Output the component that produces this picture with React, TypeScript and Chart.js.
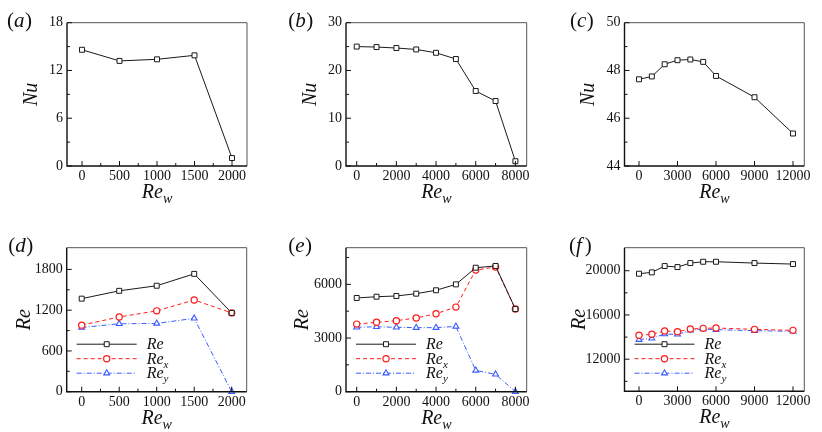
import { useEffect, useRef } from 'react';
import { Chart, registerables } from 'chart.js';

Chart.register(...registerables);

const SERIF = '"Liberation Serif"';

// (a)-(c): Nu against Re_w
const rewA = [0, 500, 1000, 1500, 2000];
const nuA = [14.6, 13.2, 13.4, 13.9, 1.0];

const rewB = [0, 1000, 2000, 3000, 4000, 5000, 6000, 7000, 8000];
const nuB = [25.0, 24.9, 24.7, 24.4, 23.7, 22.4, 15.7, 13.6, 1.0];

const rewC = [0, 1000, 2000, 3000, 4000, 5000, 6000, 9000, 12000];
const nuC = [47.63, 47.75, 48.26, 48.43, 48.46, 48.36, 47.77, 46.88, 45.36];

// (d)-(f): Re, Re_x, Re_y against Re_w
const reD = [1370, 1485, 1560, 1735, 1160];
const rexD = [980, 1100, 1190, 1350, 1160];
const reyD = [945, 1000, 1005, 1080, 0];

const reE = [5240, 5310, 5350, 5480, 5670, 6000, 6930, 7030, 4620];
const rexE = [3780, 3880, 3970, 4120, 4360, 4730, 6800, 6970, 4620];
const reyE = [3600, 3630, 3600, 3580, 3580, 3650, 1190, 970, 0];

const reF = [19730, 19850, 20420, 20330, 20690, 20810, 20810, 20690, 20600];
const rexF = [14160, 14250, 14550, 14490, 14730, 14790, 14820, 14700, 14610];
const reyF = [13770, 13890, 14280, 14250, 14610, 14730, 14670, 14580, 14520];

// tick labels
const xTicksA = [0, 500, 1000, 1500, 2000];
const xMinorA = [250, 750, 1250, 1750];
const xTicksB = [0, 2000, 4000, 6000, 8000];
const xMinorB = [1000, 3000, 5000, 7000];
const xTicksC = [0, 3000, 6000, 9000, 12000];

const yTicksA = [0, 6, 12, 18];
const yMinorA = [3, 9, 15];
const yTicksB = [0, 10, 20, 30];
const yMinorB = [5, 15, 25];
const yTicksC = [44, 46, 48, 50];
const yMinorC = [45, 47, 49];
const yTicksD = [0, 600, 1200, 1800];
const yMinorD = [300, 900, 1500];
const yTicksE = [0, 3000, 6000];
const yMinorE = [1500, 4500, 7500];
const yTicksF = [12000, 16000, 20000];
const yMinorF = [10000, 14000, 18000];

type Kind = 'Re' | 'Rex' | 'Rey';
type Series = { data: number[]; kind: Kind };
type Panel = {
  tag: string;
  pos: [number, number];
  box: [number, number, number, number];
  labelPos: [number, number];
  yTitle: string;
  yTitleOff: number;
  x: number[];
  series: Series[];
  xRange: [number, number];
  yRange: [number, number];
  xTicks: number[];
  xMinor: number[];
  yTicks: number[];
  yMinor: number[];
  legend: boolean;
};

const W = 274;
const H = 216;

const STYLE: Record<Kind, { color: string; dash: number[]; point: string; r: number; bw: number; sub: string }> = {
  Re: { color: '#1a1a1a', dash: [], point: 'rect', r: 3.5, bw: 1, sub: '' },
  Rex: { color: '#ff1a1a', dash: [4, 3], point: 'circle', r: 3.1, bw: 1.2, sub: 'x' },
  Rey: { color: '#3a5cff', dash: [5, 2, 1, 2], point: 'triangle', r: 3.4, bw: 1.1, sub: 'y' },
};

const panels: Panel[] = [
  {
    tag: 'a', pos: [0, 0], box: [67, 22.7, 247, 166], labelPos: [7, 26.5],
    yTitle: 'Nu', yTitleOff: 35, x: rewA, series: [{ data: nuA, kind: 'Re' }],
    xRange: [-200, 2200], yRange: [0, 18], xTicks: xTicksA, xMinor: xMinorA,
    yTicks: yTicksA, yMinor: yMinorA, legend: false,
  },
  {
    tag: 'b', pos: [274, 0], box: [72, 22.7, 252.7, 166], labelPos: [14.3, 26.5],
    yTitle: 'Nu', yTitleOff: 35, x: rewB, series: [{ data: nuB, kind: 'Re' }],
    xRange: [-540, 8570], yRange: [0, 30], xTicks: xTicksB, xMinor: xMinorB,
    yTicks: yTicksB, yMinor: yMinorB, legend: false,
  },
  {
    tag: 'c', pos: [548, 0], box: [76.5, 22.7, 256.3, 166], labelPos: [22, 26.5],
    yTitle: 'Nu', yTitleOff: 36, x: rewC, series: [{ data: nuC, kind: 'Re' }],
    xRange: [-1130, 12880], yRange: [44, 50], xTicks: xTicksC, xMinor: [],
    yTicks: yTicksC, yMinor: yMinorC, legend: false,
  },
  {
    tag: 'd', pos: [0, 216], box: [66.7, 31.7, 246.7, 175.7], labelPos: [8.3, 36.3],
    yTitle: 'Re', yTitleOff: 42, x: rewA,
    series: [{ data: reD, kind: 'Re' }, { data: rexD, kind: 'Rex' }, { data: reyD, kind: 'Rey' }],
    xRange: [-200, 2200], yRange: [0, 2120], xTicks: xTicksA, xMinor: xMinorA,
    yTicks: yTicksD, yMinor: yMinorD, legend: true,
  },
  {
    tag: 'e', pos: [274, 216], box: [72, 31.7, 252.7, 175.7], labelPos: [14.3, 36.3],
    yTitle: 'Re', yTitleOff: 43, x: rewB,
    series: [{ data: reE, kind: 'Re' }, { data: rexE, kind: 'Rex' }, { data: reyE, kind: 'Rey' }],
    xRange: [-540, 8570], yRange: [0, 8050], xTicks: xTicksB, xMinor: xMinorB,
    yTicks: yTicksE, yMinor: yMinorE, legend: true,
  },
  {
    tag: 'f', pos: [548, 216], box: [76.5, 31.7, 256.3, 175.3], labelPos: [21, 36.3],
    yTitle: 'Re', yTitleOff: 45, x: rewC,
    series: [{ data: reF, kind: 'Re' }, { data: rexF, kind: 'Rex' }, { data: reyF, kind: 'Rey' }],
    xRange: [-1130, 12880], yRange: [9100, 22080], xTicks: xTicksC, xMinor: [],
    yTicks: yTicksF, yMinor: yMinorF, legend: true,
  },
];

function drawMarker(ctx: CanvasRenderingContext2D, kind: Kind, x: number, y: number) {
  const st = STYLE[kind];
  ctx.beginPath();
  if (st.point === 'rect') {
    const s = st.r * Math.SQRT1_2;
    ctx.rect(x - s, y - s, 2 * s, 2 * s);
  } else if (st.point === 'circle') {
    ctx.arc(x, y, st.r, 0, Math.PI * 2);
  } else {
    for (let k = 0; k < 3; k++) {
      const a = (k * 2 * Math.PI) / 3;
      ctx.lineTo(x + Math.sin(a) * st.r, y - Math.cos(a) * st.r);
    }
    ctx.closePath();
  }
  ctx.setLineDash([]);
  ctx.fillStyle = '#fff';
  ctx.fill();
  ctx.strokeStyle = st.color;
  ctx.lineWidth = st.bw;
  ctx.stroke();
}

// italic main text with an optional italic subscript, baseline at y
function subText(
  ctx: CanvasRenderingContext2D, main: string, sub: string, x: number, y: number,
  size: number, subSize: number, center: boolean,
) {
  ctx.font = `italic ${size}px ${SERIF}`;
  const w1 = ctx.measureText(main).width;
  ctx.font = `italic ${subSize}px ${SERIF}`;
  const w2 = sub ? ctx.measureText(sub).width : 0;
  const x0 = center ? x - (w1 + w2) / 2 : x;
  ctx.textAlign = 'left';
  ctx.textBaseline = 'alphabetic';
  ctx.font = `italic ${size}px ${SERIF}`;
  ctx.fillText(main, x0, y);
  if (sub) {
    ctx.font = `italic ${subSize}px ${SERIF}`;
    ctx.fillText(sub, x0 + w1, y + size * 0.25);
  }
}

function framePlugin(p: Panel) {
  return {
    id: 'frame_' + p.tag,
    afterDraw(chart: Chart) {
      const { ctx, chartArea: a } = chart;
      const xs = chart.scales.x;
      const ys = chart.scales.y;
      ctx.save();

      // box: thin grey top/right, darker left/bottom
      ctx.setLineDash([]);
      ctx.strokeStyle = '#555';
      ctx.lineWidth = 1;
      ctx.beginPath();
      ctx.moveTo(a.left, a.top);
      ctx.lineTo(a.right, a.top);
      ctx.lineTo(a.right, a.bottom);
      ctx.stroke();
      ctx.strokeStyle = '#111';
      ctx.lineWidth = 1.4;
      ctx.beginPath();
      ctx.moveTo(a.left, a.top);
      ctx.lineTo(a.left, a.bottom);
      ctx.lineTo(a.right, a.bottom);
      ctx.stroke();

      // inward ticks
      ctx.lineWidth = 1;
      ctx.beginPath();
      p.xTicks.forEach((v) => {
        const px = xs.getPixelForValue(v);
        ctx.moveTo(px, a.bottom);
        ctx.lineTo(px, a.bottom - 5);
      });
      p.xMinor.forEach((v) => {
        const px = xs.getPixelForValue(v);
        ctx.moveTo(px, a.bottom);
        ctx.lineTo(px, a.bottom - 3);
      });
      p.yTicks.forEach((v) => {
        const py = ys.getPixelForValue(v);
        ctx.moveTo(a.left, py);
        ctx.lineTo(a.left + 5, py);
      });
      p.yMinor.forEach((v) => {
        const py = ys.getPixelForValue(v);
        if (py < a.top || py > a.bottom) return;
        ctx.moveTo(a.left, py);
        ctx.lineTo(a.left + 3, py);
      });
      ctx.stroke();

      ctx.fillStyle = '#111';

      // x title Re_w
      subText(ctx, 'Re', 'w', (a.left + a.right) / 2, a.bottom + 32, 20, 14, true);

      // y title
      ctx.save();
      ctx.translate(a.left - p.yTitleOff, (a.top + a.bottom) / 2);
      ctx.rotate(-Math.PI / 2);
      ctx.font = `italic 20px ${SERIF}`;
      ctx.textAlign = 'center';
      ctx.textBaseline = 'middle';
      ctx.fillText(p.yTitle, 0, 0);
      ctx.restore();

      // panel label (a) ...
      const [lx, ly] = p.labelPos;
      ctx.textAlign = 'left';
      ctx.textBaseline = 'alphabetic';
      ctx.font = `21px ${SERIF}`;
      ctx.fillText('(', lx, ly);
      let cx = lx + ctx.measureText('(').width;
      ctx.font = `italic 21px ${SERIF}`;
      ctx.fillText(p.tag, cx, ly);
      cx += ctx.measureText(p.tag).width + (p.tag === 'f' ? 3 : 0.5);
      ctx.font = `21px ${SERIF}`;
      ctx.fillText(')', cx, ly);

      // legend
      if (p.legend) {
        p.series.forEach((s, i) => {
          const st = STYLE[s.kind];
          const ry = a.top + 96.5 + 14.5 * i;
          ctx.setLineDash(st.dash);
          ctx.strokeStyle = st.color;
          ctx.lineWidth = 1;
          ctx.beginPath();
          ctx.moveTo(a.left + 10, ry);
          ctx.lineTo(a.left + 70, ry);
          ctx.stroke();
          drawMarker(ctx, s.kind, a.left + 40, ry);
          ctx.fillStyle = '#111';
          subText(ctx, 'Re', st.sub, a.left + 80, ry + 5, 16, 11, false);
        });
      }
      ctx.restore();
    },
  };
}

function PanelChart({ p }: { p: Panel }) {
  const canvasRef = useRef<HTMLCanvasElement | null>(null);
  const chartRef = useRef<Chart | null>(null);

  useEffect(() => {
    if (!canvasRef.current) return;
    if (chartRef.current) chartRef.current.destroy();
    const [bl, bt, br, bb] = p.box;
    const tickFont = { family: SERIF, size: 14 };

    chartRef.current = new Chart(canvasRef.current, {
      type: 'line',
      data: {
        datasets: p.series.map((s) => {
          const st = STYLE[s.kind];
          return {
            label: s.kind,
            data: p.x.map((x, i) => ({ x, y: s.data[i] })),
            borderColor: st.color,
            borderWidth: 1,
            borderDash: st.dash,
            pointStyle: st.point as any,
            pointRadius: st.r,
            pointBorderColor: st.color,
            pointBackgroundColor: '#fff',
            pointBorderWidth: st.bw,
            tension: 0,
            clip: false as any,
          };
        }),
      },
      options: {
        animation: false,
        responsive: true,
        maintainAspectRatio: false,
        events: [],
        layout: { padding: { top: bt, right: W - br, left: 0, bottom: 0 } },
        plugins: { legend: { display: false }, tooltip: { enabled: false } },
        scales: {
          x: {
            type: 'linear',
            min: p.xRange[0],
            max: p.xRange[1],
            grid: { display: false, drawTicks: false },
            border: { display: false },
            ticks: { font: tickFont, color: '#111', padding: 2, maxRotation: 0, callback: (v) => String(v) },
            afterBuildTicks: (s: any) => {
              s.ticks = p.xTicks.map((value) => ({ value }));
            },
            afterFit: (s: any) => {
              s.height = H - bb;
            },
          },
          y: {
            type: 'linear',
            min: p.yRange[0],
            max: p.yRange[1],
            grid: { display: false, drawTicks: false },
            border: { display: false },
            ticks: { font: tickFont, color: '#111', padding: 4, callback: (v) => String(v) },
            afterBuildTicks: (s: any) => {
              s.ticks = p.yTicks.map((value) => ({ value }));
            },
            afterFit: (s: any) => {
              s.width = bl;
            },
          },
        },
      },
      plugins: [framePlugin(p)],
    });

    return () => {
      if (chartRef.current) {
        chartRef.current.destroy();
        chartRef.current = null;
      }
    };
  }, [p]);

  return (
    <div style={{ position: 'absolute', left: p.pos[0], top: p.pos[1], width: W, height: H }}>
      <canvas ref={canvasRef} />
    </div>
  );
}

export default function App() {
  return (
    <div style={{ position: 'absolute', left: 0, top: 0, width: 822, height: 432, background: '#fff' }}>
      {panels.map((p) => (
        <PanelChart key={p.tag} p={p} />
      ))}
    </div>
  );
}
